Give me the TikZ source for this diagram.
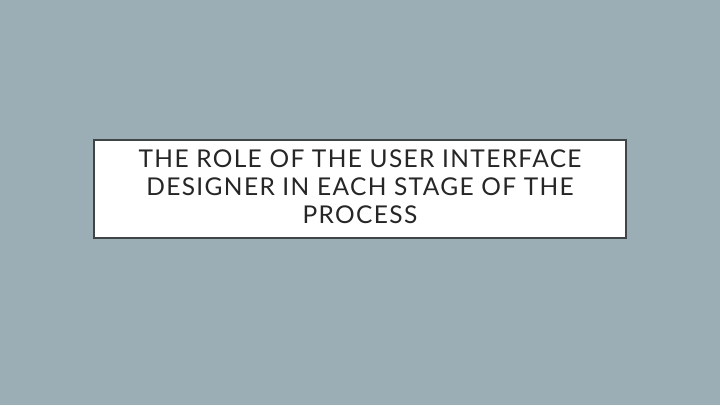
\documentclass[tikz,border=0pt]{standalone}
\usepackage{fontspec}
\setmainfont{Lato}[LetterSpace=5.5]
\definecolor{bg}{HTML}{9BAEB5}
\definecolor{frame}{HTML}{3F4446}
\definecolor{txt}{HTML}{262626}
\tikzset{
  titlebox/.style={draw=frame,line width=1.5pt,fill=white,minimum width=532pt,minimum height=98pt,inner sep=0pt},
  titletext/.style={align=center,text=txt,font=\fontsize{24.5pt}{28pt}\selectfont,inner sep=0pt}}
\begin{document}
\begin{tikzpicture}[x=1pt,y=1pt]
\fill[bg] (0,0) rectangle (720,405);
\useasboundingbox (0,0) rectangle (720,405);
\node[titlebox] (title) at (360,216) {};
\node[titletext] (titletxt) at (360,218) {THE ROLE OF THE USER INTERFACE\\DESIGNER IN EACH STAGE OF THE\\PROCESS};
\end{tikzpicture}
\end{document}
